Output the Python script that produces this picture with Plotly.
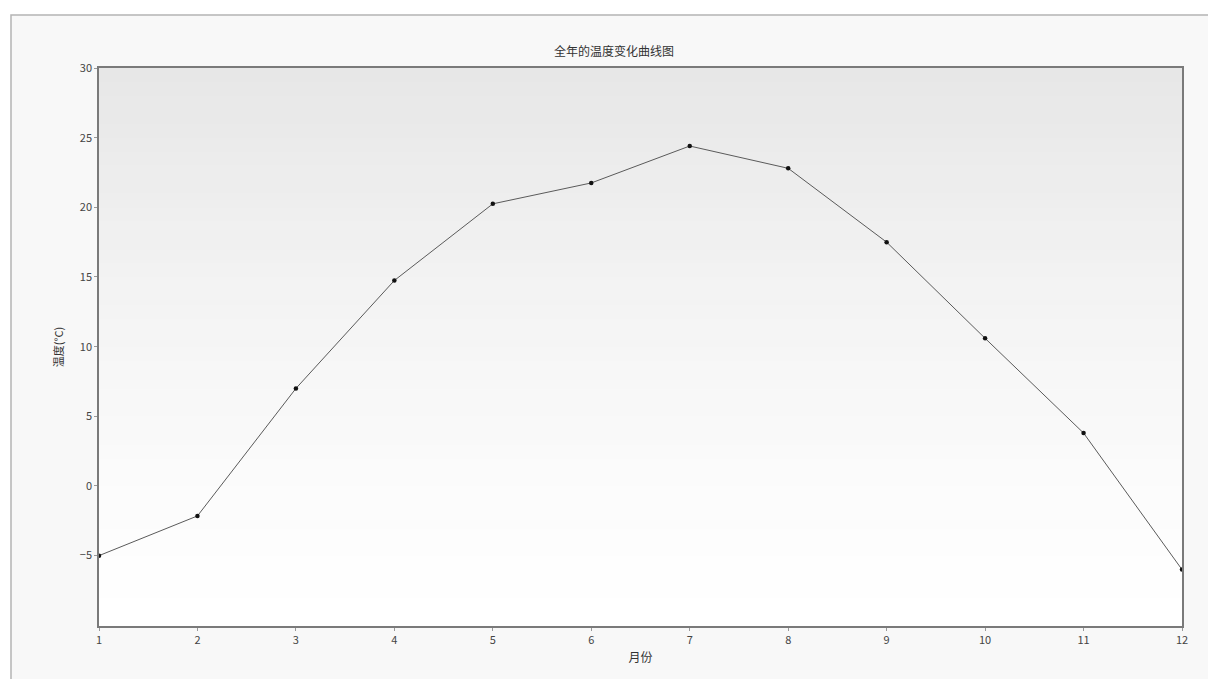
import plotly.graph_objects as go

months = [1, 2, 3, 4, 5, 6, 7, 8, 9, 10, 11, 12]
temps = [-5.0, -2.15, 7.0, 14.75, 20.25, 21.75, 24.4, 22.8, 17.5, 10.6, 3.8, -6.0]
y_ticks = [-5, 0, 5, 10, 15, 20, 25, 30]
title_text = "全年的温度变化曲线图"
x_title = "月份"
y_title = "温度(°C)"

W, H = 1208, 679
L, R, T, B = 99, 1182, 68, 626
pw, ph = R - L, B - T

def px_x(p):
    return (p - L) / pw

def px_y(p):
    return (B - p) / ph

font = "Noto Sans CJK SC, Noto Sans, sans-serif"

fig = go.Figure()
fig.add_trace(go.Scatter(
    x=months, y=temps, mode="lines+markers",
    line=dict(color="#5a5a5a", width=1),
    marker=dict(color="#111111", size=4.5),
    showlegend=False, hoverinfo="x+y",
))

shapes = []
# outer frame
shapes.append(dict(type="rect", xref="paper", yref="paper",
                   x0=px_x(11), x1=px_x(1230), y0=px_y(700), y1=px_y(15),
                   line=dict(color="#b4b4b4", width=1.5), fillcolor="#f8f8f8",
                   layer="below"))
# vertical gradient in plot area (light grey top -> white bottom)
n = 40
top_c, bot_c = 231, 255
for i in range(n):
    f0, f1 = i / n, (i + 1) / n
    c = int(round(bot_c + (top_c - bot_c) * (f1 ** 1.4)))
    shapes.append(dict(type="rect", xref="x domain", yref="y domain",
                       x0=0, x1=1, y0=f0, y1=f1 + 0.002,
                       line=dict(width=0), fillcolor=f"rgb({c},{c},{c})",
                       layer="below"))

fig.update_layout(
    width=W, height=H, autosize=False,
    margin=dict(l=L, r=W - R, t=T, b=H - B, pad=0),
    paper_bgcolor="#ffffff", plot_bgcolor="#ffffff",
    shapes=shapes,
    title=dict(text=title_text, xref="container", yref="container",
               x=614 / W, y=1 - 52 / H, xanchor="center", yanchor="middle",
               font=dict(family=font, size=12, color="#333333")),
    font=dict(family=font, size=11, color="#444444"),
    xaxis=dict(range=[1, 12], tickvals=months, ticktext=[str(m) for m in months],
               showgrid=False, zeroline=False, showline=True, linecolor="#7a7a7a",
               linewidth=1.5, mirror=True, ticks="outside", ticklen=3,
               tickcolor="#999999", tickfont=dict(size=11, color="#444444"),
               title=dict(text=x_title, standoff=8,
                          font=dict(family=font, size=12, color="#333333"))),
    yaxis=dict(range=[-10.05, 30], tickvals=y_ticks,
               showgrid=False, zeroline=False, showline=True, linecolor="#7a7a7a",
               linewidth=1.5, mirror=True, ticks="outside", ticklen=3,
               tickcolor="#999999", tickfont=dict(size=11, color="#444444"),
               title=dict(text=y_title, standoff=14,
                          font=dict(family=font, size=11, color="#333333"))),
)

fig.write_html("out.html", config={"displayModeBar": False},
               post_script="document.body.style.margin='0';document.body.style.overflow='hidden';")
